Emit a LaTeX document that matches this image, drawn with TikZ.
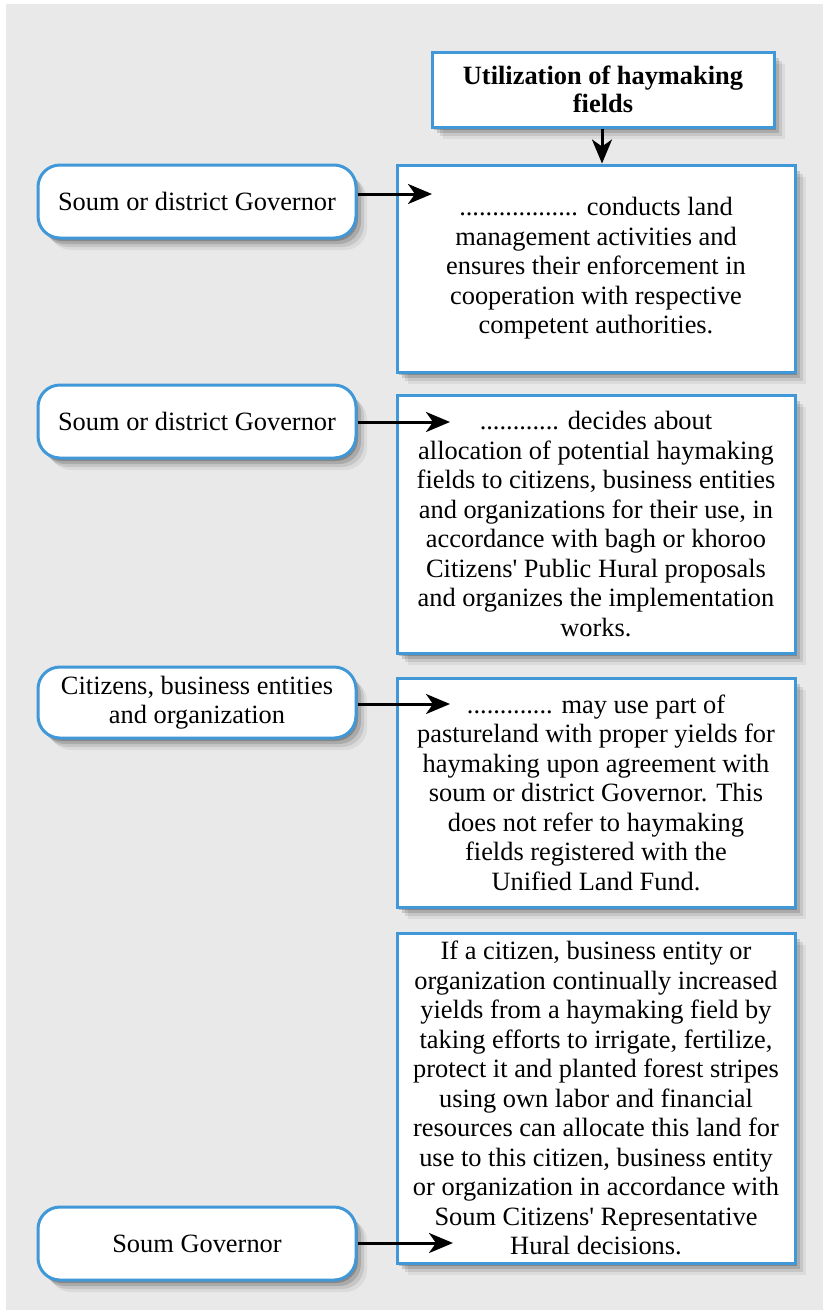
\documentclass[tikz,border=0pt]{standalone}
\usepackage{fontspec}
\setmainfont{Liberation Serif}[Ligatures=TeXOff]
\usetikzlibrary{arrows.meta,shadows}
\definecolor{bgc}{HTML}{E9E9E9}
\definecolor{edge}{RGB}{64,152,216}
\tikzset{
  txt/.style={font=\fontsize{26.4pt}{29.5pt}\selectfont, align=center, inner sep=0pt},
  softshadow/.style={
    drop shadow={shadow xshift=2pt,shadow yshift=-3pt,opacity=.20,fill=black},
    drop shadow={shadow xshift=5pt,shadow yshift=-6pt,opacity=.14,fill=black},
    drop shadow={shadow xshift=8pt,shadow yshift=-9pt,opacity=.09,fill=black},
    drop shadow={shadow xshift=11pt,shadow yshift=-12pt,opacity=.06,fill=black}},
  infobox/.style={txt, draw=edge, line width=3pt, fill=white, softshadow, minimum width=398pt},
  pill/.style={txt, draw=edge, line width=3pt, fill=white, softshadow, rounded corners=22pt, minimum width=318pt},
  arr/.style={line width=3pt, -{Stealth[length=24pt,width=20pt,inset=7pt]}}
}
\begin{document}
\begin{tikzpicture}[x=1pt,y=-1pt]
\useasboundingbox (0,0) rectangle (823,1310);
\fill[white] (0,0) rectangle (823,1310);
\fill[bgc] (6,4) rectangle (823,1310);

\node[infobox, font=\fontsize{26.4pt}{28pt}\selectfont\bfseries, minimum width=342pt, minimum height=75pt] (title) at (603,89.5)
  {Utilization of haymaking\\fields};

\node[infobox, minimum height=207pt] (b1) at (596,268.5)
  {.................. conducts land\\management activities and\\ensures their enforcement in\\cooperation with respective\\competent authorities.};
\node[infobox, minimum height=258pt] (b2) at (596,524)
  {............ decides about\\allocation of potential haymaking\\fields to citizens, business entities\\and organizations for their use, in\\accordance with bagh or khoroo\\Citizens' Public Hural proposals\\and organizes the implementation\\works.};
\node[infobox, minimum height=229pt] (b3) at (596,792.5)
  {............. may use part of\\pastureland with proper yields for\\haymaking upon agreement with\\soum or district Governor. This\\does not refer to haymaking\\fields registered with the\\Unified Land Fund.};
\node[infobox, minimum height=330pt] (b4) at (596,1098)
  {If a citizen, business entity or\\organization continually increased\\yields from a haymaking field by\\taking efforts to irrigate, fertilize,\\protect it and planted forest stripes\\using own labor and financial\\resources can allocate this land for\\use to this citizen, business entity\\or organization in accordance with\\Soum Citizens' Representative\\Hural decisions.};

\node[pill, minimum height=73pt] (p1) at (197,201.5) {Soum or district Governor};
\node[pill, minimum height=73pt] (p2) at (197,421.5) {Soum or district Governor};
\node[pill, minimum height=71pt, font=\fontsize{26.4pt}{28.5pt}\selectfont] (p3) at (197,702.5) {Citizens, business entities\\and organization};
\node[pill, minimum height=73pt] (p4) at (197,1243.5) {Soum Governor};

\coordinate (t1) at (432,194);
\coordinate (t2) at (450,422);
\coordinate (t3) at (450,704);
\coordinate (t4) at (453,1243);

\draw[arr] (title.south -| 602,0) -- (602,0 |- b1.north);
\draw[arr] (p1.east |- t1) -- (t1);
\draw[arr] (p2.east |- t2) -- (t2);
\draw[arr] (p3.east |- t3) -- (t3);
\draw[arr] (p4.east |- t4) -- (t4);
\end{tikzpicture}
\end{document}
